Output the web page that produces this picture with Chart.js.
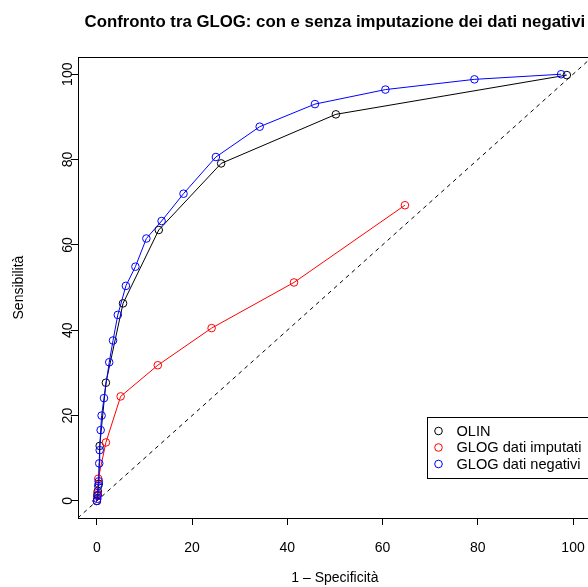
<!DOCTYPE html>
<html><head><meta charset="utf-8">
<script src="https://cdn.jsdelivr.net/npm/chart.js@4.4.0/dist/chart.umd.min.js"></script>
<style>
html,body{margin:0;padding:0;overflow:hidden;background:#fff;width:588px;height:587px}
#wrap{width:600px;height:587px}
</style></head>
<body><div id="wrap"><canvas id="c" width="600" height="587"></canvas></div>
<script>
const FONT = '"Liberation Sans", Arial, Helvetica, sans-serif';
const titleText = "Confronto tra GLOG: con e senza imputazione dei dati negativi";
const xTitle = "1 – Specificità";
const yTitle = "Sensibilità";
const xTicks = [0, 20, 40, 60, 80, 100];
const yTicks = [0, 20, 40, 60, 80, 100];
const axisMin = -4, axisMax = 104;
const seriesLabels = ["OLIN", "GLOG dati imputati", "GLOG dati negativi"];
const seriesColors = ["#000000", "#ff0000", "#0000ff"];

const olinX = [0, 0.1, 0.2, 0.4, 0.6, 1.9, 5.5, 13.0, 26.1, 50.2, 98.7];
const olinY = [0, 1.2, 2.3, 4.0, 12.9, 27.7, 46.3, 63.5, 79.1, 90.6, 99.8];

const impX = [0, 0.1, 0.3, 1.9, 5.0, 12.8, 24.1, 41.4, 64.7];
const impY = [0, 1.8, 5.2, 13.7, 24.5, 31.8, 40.5, 51.2, 69.3];

const negX = [0, 0.1, 0.2, 0.3, 0.4, 0.5, 0.6, 0.8, 1.0, 1.5, 2.6, 3.4, 4.4, 6.1, 8.1, 10.4, 13.6, 18.2, 25.0, 34.2, 45.8, 60.6, 79.3, 97.5];
const negY = [0, 0.5, 1.4, 3.5, 4.6, 8.8, 11.9, 16.6, 20.0, 24.1, 32.5, 37.6, 43.6, 50.4, 54.9, 61.5, 65.6, 72.0, 80.6, 87.7, 93.0, 96.4, 98.8, 100];

const diagX = [axisMin, axisMax];
const diagY = [axisMin, axisMax];

function pts(xs, ys) { return xs.map((x, i) => ({ x: x, y: ys[i] })); }

function series(label, xs, ys, color, order) {
  return {
    label: label, data: pts(xs, ys), showLine: true,
    borderColor: color, borderWidth: 1,
    pointStyle: 'circle', pointRadius: 3.8, pointBorderWidth: 1,
    pointBorderColor: color, pointBackgroundColor: 'rgba(0,0,0,0)',
    order: order
  };
}

const boxPlugin = {
  id: 'rbox',
  afterDatasetsDraw(chart) {
    const { ctx, chartArea: a } = chart;
    ctx.save();
    ctx.strokeStyle = '#000';
    ctx.lineWidth = 1;
    ctx.strokeRect(Math.round(a.left) + 0.5, Math.round(a.top) + 0.5,
      Math.round(a.right - a.left), Math.round(a.bottom - a.top));
    ctx.restore();
  }
};

const legendPlugin = {
  id: 'rlegend',
  afterDraw(chart) {
    const { ctx, chartArea: a } = chart;
    const w = 165, h = 61;
    const right = Math.round(a.right);
    const bottom = Math.round(a.bottom) - 40;
    const left = right - w, top = bottom - h;
    ctx.save();
    ctx.fillStyle = '#fff';
    ctx.fillRect(left, top, w, h);
    ctx.strokeStyle = '#000';
    ctx.lineWidth = 1;
    ctx.strokeRect(left + 0.5, top + 0.5, w, h);
    ctx.font = '14.6px ' + FONT;
    ctx.textBaseline = 'middle';
    ctx.textAlign = 'left';
    for (let i = 0; i < seriesLabels.length; i++) {
      const cy = top + 14 + i * 16.5;
      ctx.beginPath();
      ctx.strokeStyle = seriesColors[i];
      ctx.arc(left + 11.5, cy, 3.8, 0, Math.PI * 2);
      ctx.stroke();
      ctx.fillStyle = '#000';
      ctx.fillText(seriesLabels[i], left + 29.5, cy + 0.5);
    }
    ctx.restore();
  }
};

new Chart(document.getElementById('c'), {
  type: 'scatter',
  data: {
    datasets: [
      {
        label: 'diag', data: pts(diagX, diagY), showLine: true,
        borderColor: '#000', borderWidth: 1, borderDash: [4, 4],
        pointRadius: 0, order: 4
      },
      series(seriesLabels[0], olinX, olinY, seriesColors[0], 3),
      series(seriesLabels[1], impX, impY, seriesColors[1], 2),
      series(seriesLabels[2], negX, negY, seriesColors[2], 1)
    ]
  },
  options: {
    responsive: false, animation: false,
    layout: { padding: { left: 11, right: 5, top: 0, bottom: 0 } },
    plugins: {
      legend: { display: false },
      tooltip: { enabled: false },
      title: {
        display: true, text: titleText, fullSize: false, color: '#000',
        font: { family: FONT, size: 16.8, weight: 'bold' },
        padding: { top: 12, bottom: 25 }
      }
    },
    scales: {
      x: {
        type: 'linear', min: axisMin, max: axisMax,
        afterBuildTicks(s) { s.ticks = xTicks.map(v => ({ value: v })); },
        afterFit(s) { s.height = 69; },
        grid: { drawOnChartArea: false, drawTicks: true, tickLength: 7, color: '#000', lineWidth: 1 },
        border: { display: false },
        ticks: { color: '#000', font: { family: FONT, size: 14 }, padding: 15, minRotation: 0, maxRotation: 0, autoSkip: false },
        title: { display: true, text: xTitle, color: '#000', font: { family: FONT, size: 14 }, padding: 0 }
      },
      y: {
        type: 'linear', min: axisMin, max: axisMax,
        afterBuildTicks(s) { s.ticks = yTicks.map(v => ({ value: v })); },
        afterFit(s) { s.width = 66.8; },
        grid: { drawOnChartArea: false, drawTicks: true, tickLength: 7, color: '#000', lineWidth: 1 },
        border: { display: false },
        ticks: { color: '#000', font: { family: FONT, size: 14 }, padding: -9, minRotation: 90, maxRotation: 90, crossAlign: 'center', autoSkip: false },
        title: { display: true, text: yTitle, color: '#000', font: { family: FONT, size: 14 }, padding: 0 }
      }
    }
  },
  plugins: [boxPlugin, legendPlugin]
});
</script>
</body></html>
